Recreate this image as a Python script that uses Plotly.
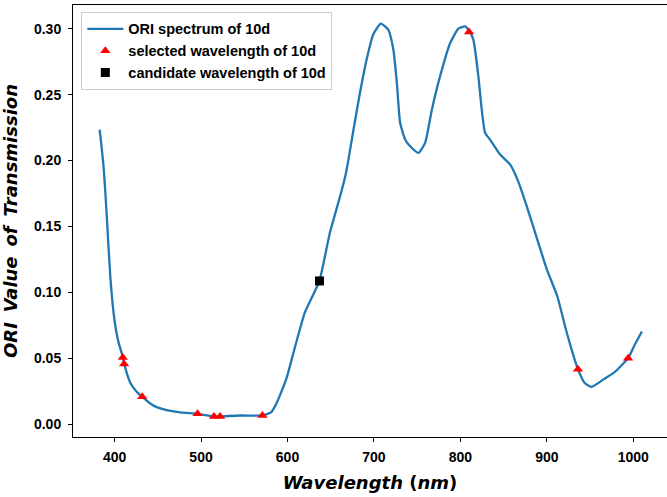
import plotly.graph_objects as go

# ORI transmission spectrum of sample 10d
wavelength = [382.7, 385, 387.3, 389.3, 391.2, 395, 398.8, 401.5, 404.6, 408.6, 411, 418,
              425, 432, 445, 456, 476, 496, 515, 522, 545, 571, 581, 586, 591, 599, 608,
              620, 629, 637, 649, 662, 668, 676, 684, 692, 699.4, 708, 716.8, 722.5,
              726.5, 730.3, 736.1, 741.9, 751.5, 759.2, 767, 776.5, 788.1, 797.7, 805.4,
              810, 815, 820.8, 824.7, 828.6, 834.3, 846, 857.5, 867, 876.7, 889, 900,
              912, 923, 936, 944, 952, 966, 978, 994, 1001, 1010]
ori_value = [0.2235, 0.210, 0.195, 0.176, 0.155, 0.1124, 0.0846, 0.0720, 0.0619, 0.0530,
             0.046, 0.0316, 0.025, 0.0207, 0.014, 0.0114, 0.0089, 0.0078, 0.0058, 0.0058,
             0.0065, 0.0066, 0.0089, 0.014, 0.0214, 0.035, 0.0568, 0.0846, 0.0972, 0.1086,
             0.145, 0.1755, 0.1915, 0.222, 0.252, 0.278, 0.296, 0.3038, 0.299, 0.284,
             0.259, 0.2286, 0.216, 0.2108, 0.2058, 0.2134, 0.2386, 0.2639, 0.289, 0.300,
             0.3017, 0.2985, 0.2917, 0.2639, 0.2386, 0.221, 0.2159, 0.2045, 0.197, 0.184,
             0.1654, 0.140, 0.1174, 0.0972, 0.0695, 0.0417, 0.031, 0.0283, 0.0341, 0.0392,
             0.050, 0.0593, 0.0702]

# selected and candidate wavelengths
selected_wl = [409.5, 411, 432, 496, 515, 522, 571, 810, 936, 994]
selected_val = [0.0505, 0.0455, 0.0207, 0.0078, 0.0058, 0.0058, 0.0066, 0.2975, 0.0417, 0.050]
candidate_wl = [637]
candidate_val = [0.1086]

x_ticks = [400, 500, 600, 700, 800, 900, 1000]
y_ticks = [0.00, 0.05, 0.10, 0.15, 0.20, 0.25, 0.30]

fig = go.Figure()
fig.add_trace(go.Scatter(
    x=wavelength, y=ori_value, mode="lines", name="ORI spectrum of 10d",
    line=dict(color="#1f77b4", width=2.3, shape="spline", smoothing=0.5)))
fig.add_trace(go.Scatter(
    x=selected_wl, y=selected_val, mode="markers", name="selected wavelength of 10d",
    marker=dict(symbol="triangle-up", color="#ff0000", size=9)))
fig.add_trace(go.Scatter(
    x=candidate_wl, y=candidate_val, mode="markers", name="candidate wavelength of 10d",
    marker=dict(symbol="square", color="#000000", size=9)))

axis_common = dict(
    showline=True, linecolor="black", linewidth=1, mirror=True,
    ticks="outside", ticklen=4, tickwidth=1, tickcolor="black",
    showgrid=False, zeroline=False, automargin=False,
    tickfont=dict(family="Liberation Sans, Arial", size=14, color="black", weight="bold"),
)

fig.update_layout(
    width=667, height=497,
    margin=dict(l=73, r=0, t=5, b=60),
    plot_bgcolor="white", paper_bgcolor="white",
    xaxis=dict(range=[351.9, 1039], tickvals=x_ticks, ticklabelstandoff=3,
               title=dict(text="<i>Wavelength</i> (<i>nm</i>)", standoff=12,
                          font=dict(family="DejaVu Sans", size=18, color="black", weight="bold")),
               **axis_common),
    yaxis=dict(range=[-0.0098, 0.318], tickvals=y_ticks, tickformat=".2f", ticklabelstandoff=4,
               title=dict(text="<i>ORI\u2009 Value\u2009 of\u2009 Transmission</i>", standoff=24,
                          font=dict(family="DejaVu Sans", size=18, color="black", weight="bold")),
               **axis_common),
    legend=dict(x=0.014, y=0.984, xanchor="left", yanchor="top",
                bgcolor="rgba(255,255,255,0.85)", bordercolor="#cccccc", borderwidth=1,
                traceorder="normal", itemwidth=36,
                font=dict(family="Liberation Sans, Arial", size=14.5, color="black", weight="bold")),
    showlegend=True,
)

fig.write_html("out.html")
